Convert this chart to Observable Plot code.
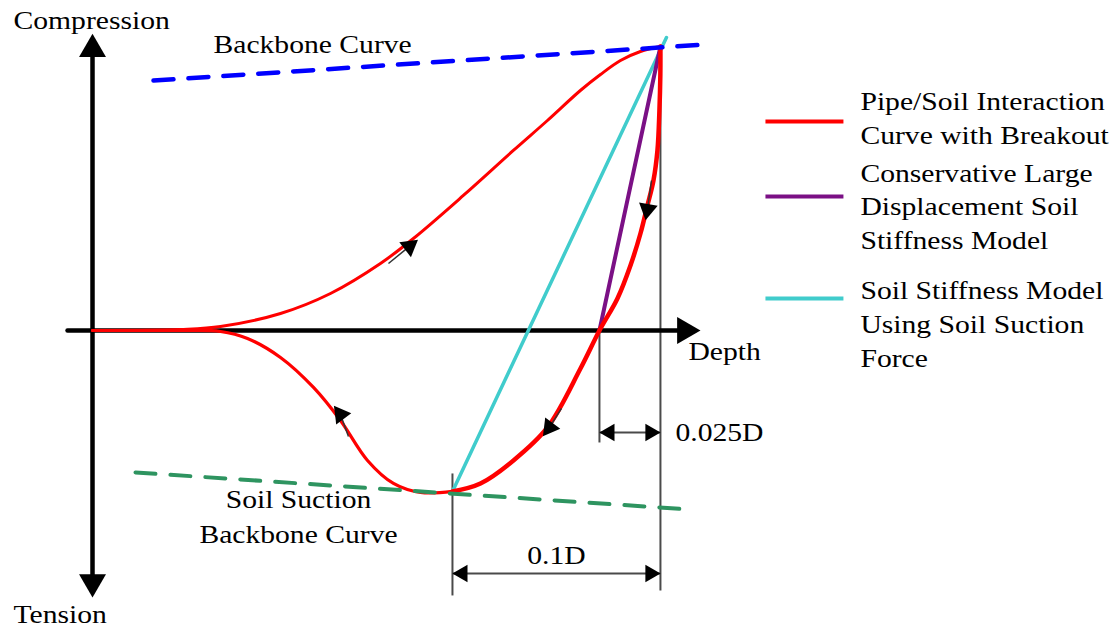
<!DOCTYPE html>
<html>
<head>
<meta charset="utf-8">
<script src="https://cdn.jsdelivr.net/npm/d3@7"></script>
<script src="https://cdn.jsdelivr.net/npm/@observablehq/plot@0.6"></script>
<style>
  html, body { margin: 0; padding: 0; background: #ffffff; }
  #chart { width: 1116px; height: 629px; overflow: hidden; }
</style>
</head>
<body>
<div id="chart"></div>
<script>
// ---- Data (normalized: depth and force relative to the breakout peak = 1) ----
// Pipe/soil loading curve (origin -> breakout peak)
const loadingCurve = [
  [0, 0], [0.0845, 0], [0.155, 0.0035], [0.2254, 0.0141], [0.331, 0.0599],
  [0.419, 0.1303], [0.507, 0.2359], [0.565, 0.3239], [0.653, 0.4754],
  [0.741, 0.6338], [0.801, 0.7394], [0.859, 0.8451], [0.8944, 0.9014],
  [0.9296, 0.9507], [0.9648, 0.9824], [1.0, 1.0]
];
// Reversal curve (peak -> suction trough), listed by increasing depth
const reversalCurve = [
  [0.6338, -0.5669], [0.6831, -0.5387], [0.7412, -0.4577], [0.8011, -0.3415],
  [0.8592, -0.1338], [0.8926, 0], [0.9243, 0.1127], [0.9472, 0.2289],
  [0.9648, 0.3415], [0.9771, 0.4401], [0.9877, 0.5282], [0.9947, 0.6338],
  [0.9982, 0.7746], [0.9998, 0.8979], [1.0, 1.0]
];
// Unloading curve (trough -> origin), listed by increasing depth
const unloadCurve = [
  [0, 0], [0.155, 0], [0.2254, -0.0035], [0.2729, -0.0282], [0.331, -0.0951],
  [0.3891, -0.2007], [0.4366, -0.3169], [0.4842, -0.4577], [0.5299, -0.5387],
  [0.5775, -0.5704], [0.6338, -0.5669]
];
const backboneCurve = [[0.1074, 0.880], [1.0792, 1.007]];
const suctionBackbone = [[0.0757, -0.500], [1.0493, -0.630]];
const peakPoint = [1.0, 1.0];
const troughPoint = [0.6338, -0.5669];
const zeroCrossing = [0.8926, 0];
const suctionModelEnd = [1.0106, 1.0317];

// Axes
const verticalAxis = [[0, 1.0], [0, -0.88]];
const horizontalAxis = [[-0.044, 0], [1.03, 0]];
const axisArrows = [
  {x: 0, y: 1.045, angle: 0, dx: 0, dy: 15.5},
  {x: 0, y: -0.9401, angle: 180, dx: 0, dy: -15.5},
  {x: 1.0704, y: 0, angle: 90, dx: -15.5, dy: 0}
];
const axisLabels = [
  {x: -0.1391, y: 1.0633, text: "Compression"},
  {x: -0.1391, y: -1.0317, text: "Tension"},
  {x: 1.0493, y: -0.1056, text: "Depth"}
];

// Direction arrows along the red curve
const curveArrows = [
  {x: 0.558, y: 0.296, angle: 52, tx: 0.5211, ty: 0.2359},
  {x: 0.9771, y: 0.426, angle: 190, tx: 0.9842, ty: 0.5282},
  {x: 0.8046, y: -0.3415, angle: 217, tx: 0.8257, ty: -0.2746},
  {x: 0.4366, y: -0.2958, angle: -37, tx: 0.4507, ty: -0.3732}
];

// Dimension lines
const dimVerticals = [
  {x: 1.0, y1: 1.0035, y2: -0.9155},
  {x: 0.8926, y1: 0, y2: -0.3944},
  {x: 0.6338, y1: -0.5035, y2: -0.9331}
];
const dimSpans = [
  {x1: 0.8926, x2: 1.0, y: -0.3592, label: "0.025D", lx: 1.0264, ly: -0.3909, anchor: "start"},
  {x1: 0.6338, x2: 1.0, y: -0.8556, label: "0.1D", lx: 0.8169, ly: -0.8240, anchor: "middle"}
];

// Curve annotations
const curveLabels = [
  {x: 0.2130, y: 0.9788, text: "Backbone Curve", anchor: "start"},
  {x: 0.3627, y: -0.6268, text: "Soil Suction", anchor: "middle"},
  {x: 0.3627, y: -0.75, text: "Backbone Curve", anchor: "middle"}
];

// Legend
const legendLabels = [
  "Pipe/Soil Interaction\nCurve with Breakout",
  "Conservative Large\nDisplacement Soil\nStiffness Model",
  "Soil Stiffness Model\nUsing Soil Suction\nForce"
];
const legendColors = ["#ff0000", "#7b1085", "#40cccc"];
const legendLineY = [0.7359, 0.4718, 0.1127];
const legendTextY = [0.8608, 0.6088, 0.1938];
const legendX = [1.1849, 1.3222, 1.3521];

// ---- Build ----
const legendRows = legendLabels.map((t, i) => ({
  text: t, color: legendColors[i], ly: legendLineY[i], ty: legendTextY[i],
  x1: legendX[0], x2: legendX[1], tx: legendX[2]
}));
const FONT = 26;

const chart = Plot.plot({
  width: 1116,
  height: 629,
  margin: 0,
  x: {domain: [-0.162, 1.803], axis: null},
  y: {domain: [-1.053, 1.162], axis: null},
  style: {fontFamily: "'Liberation Serif', 'Times New Roman', serif", fontSize: FONT + "px", background: "#ffffff", color: "#000"},
  marks: [
    // dimension lines
    Plot.link(dimVerticals, {x1: "x", x2: "x", y1: "y1", y2: "y2", stroke: "#4a4a4a", strokeWidth: 2}),
    Plot.link(dimSpans, {x1: "x1", x2: "x2", y1: "y", y2: "y", stroke: "#4a4a4a", strokeWidth: 2}),
    Plot.dot(dimSpans, {x: "x1", y: "y", symbol: "triangle", r: 6.5, rotate: 270, dx: 10, fill: "#000", stroke: "none"}),
    Plot.dot(dimSpans, {x: "x2", y: "y", symbol: "triangle", r: 6.5, rotate: 90, dx: -10, fill: "#000", stroke: "none"}),
    // axes
    Plot.line(verticalAxis, {stroke: "#000", strokeWidth: 4.5}),
    Plot.line(horizontalAxis, {stroke: "#000", strokeWidth: 4.5}),
    Plot.dot(axisArrows.filter(d => d.dy > 0), {x: "x", y: "y", rotate: "angle", dy: 15.5, symbol: "triangle", r: 10, fill: "#000", stroke: "none"}),
    Plot.dot(axisArrows.filter(d => d.dy < 0), {x: "x", y: "y", rotate: "angle", dy: -15.5, symbol: "triangle", r: 10, fill: "#000", stroke: "none"}),
    Plot.dot(axisArrows.filter(d => d.dx < 0), {x: "x", y: "y", rotate: "angle", dx: -15.5, symbol: "triangle", r: 10, fill: "#000", stroke: "none"}),
    // stiffness models
    Plot.line([troughPoint, suctionModelEnd], {stroke: "#40cccc", strokeWidth: 3.5}),
    Plot.line([zeroCrossing, peakPoint], {stroke: "#7b1085", strokeWidth: 4}),
    // red pipe/soil curve
    Plot.line(loadingCurve, {stroke: "#ff0000", strokeWidth: 3, curve: "catmull-rom"}),
    Plot.line(unloadCurve, {stroke: "#ff0000", strokeWidth: 3.2, curve: "catmull-rom"}),
    Plot.line(reversalCurve, {stroke: "#ff0000", strokeWidth: 4.5, curve: "catmull-rom"}),
    // backbone curves
    Plot.line(suctionBackbone, {stroke: "#2e9460", strokeWidth: 4, strokeDasharray: "20 15"}),
    Plot.line(backboneCurve, {stroke: "#0000ff", strokeWidth: 4.5, strokeDasharray: "20 15"}),
    // direction arrows
    Plot.link(curveArrows, {x1: "tx", y1: "ty", x2: "x", y2: "y", stroke: "#333", strokeWidth: 1.5}),
    Plot.dot(curveArrows, {x: "x", y: "y", rotate: "angle", symbol: "triangle", r: 7, fill: "#000", stroke: "none"}),
    // legend
    Plot.link(legendRows, {x1: "x1", x2: "x2", y1: "ly", y2: "ly", stroke: "color", strokeWidth: 4}),
    Plot.text(legendRows, {x: "tx", y: "ty", text: "text", textAnchor: "start", lineAnchor: "top", lineHeight: 1.3, fontSize: FONT, fill: "#000"}),
    // text labels
    Plot.text(axisLabels, {x: "x", y: "y", text: "text", textAnchor: "start", lineAnchor: "bottom", fontSize: FONT, fill: "#000"}),
    Plot.text(curveLabels.filter(d => d.anchor === "start"), {x: "x", y: "y", text: "text", textAnchor: "start", lineAnchor: "bottom", fontSize: FONT, fill: "#000"}),
    Plot.text(curveLabels.filter(d => d.anchor === "middle"), {x: "x", y: "y", text: "text", textAnchor: "middle", lineAnchor: "bottom", fontSize: FONT, fill: "#000"}),
    Plot.text(dimSpans.filter(d => d.anchor === "start"), {x: "lx", y: "ly", text: "label", textAnchor: "start", lineAnchor: "bottom", fontSize: FONT, fill: "#000"}),
    Plot.text(dimSpans.filter(d => d.anchor === "middle"), {x: "lx", y: "ly", text: "label", textAnchor: "middle", lineAnchor: "bottom", fontSize: FONT, fill: "#000"})
  ]
});

// the reference typeface is slightly wider than Liberation Serif: stretch text horizontally
chart.querySelectorAll("text").forEach(el => {
  const t = el.getAttribute("transform") || "";
  el.setAttribute("transform", (t + " scale(1.14,1)").trim());
});

document.getElementById("chart").appendChild(chart);
</script>
</body>
</html>
